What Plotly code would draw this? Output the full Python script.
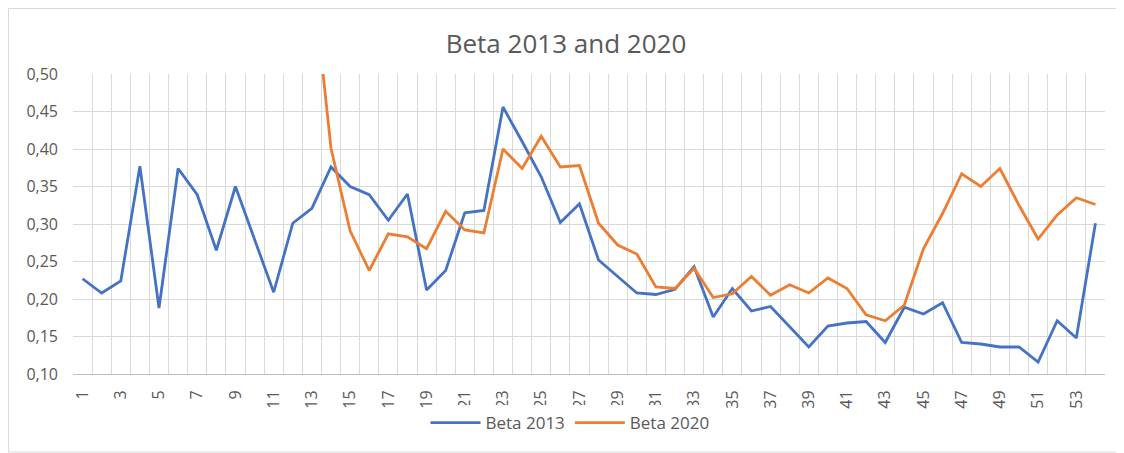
import plotly.graph_objects as go

categories = list(range(1, 55))

beta_2013 = [0.227, 0.208, 0.224, 0.377, 0.188, 0.374, 0.339, 0.265, 0.350, 0.278,
             0.209, 0.301, 0.321, 0.376, 0.350, 0.339, 0.305, 0.340, 0.212, 0.238,
             0.315, 0.318, 0.456, 0.410, 0.363, 0.302, 0.327, 0.252, 0.230, 0.208,
             0.206, 0.213, 0.243, 0.176, 0.214, 0.184, 0.190, 0.163, 0.136, 0.164,
             0.168, 0.170, 0.142, 0.189, 0.180, 0.195, 0.142, 0.140, 0.136, 0.136,
             0.116, 0.171, 0.148, 0.301]

beta_2020 = [None] * 12 + [
             0.640, 0.401, 0.291, 0.238, 0.287, 0.283, 0.267, 0.317,
             0.292, 0.288, 0.400, 0.374, 0.417, 0.376, 0.378, 0.301, 0.272, 0.260,
             0.216, 0.214, 0.241, 0.202, 0.207, 0.230, 0.205, 0.219, 0.208, 0.228,
             0.214, 0.179, 0.171, 0.192, 0.267, 0.314, 0.367, 0.350, 0.374, 0.325,
             0.280, 0.312, 0.335, 0.326]

tick_labels = [str(c) for c in categories[::2]]
y_ticks = [0.10, 0.15, 0.20, 0.25, 0.30, 0.35, 0.40, 0.45, 0.50]

FONT = "Open Sans"
TXT = "#595959"
GRID = "#D9D9D9"

# page has an 8px body margin; figure coordinates are offset accordingly
W, H = 1116, 445
L, R, T, B = 65, 19, 66, 79
PW, PH = W - L - R, H - T - B

fig = go.Figure()
fig.add_trace(go.Scatter(x=categories, y=beta_2013, mode="lines", name="Beta 2013",
                         line=dict(color="#4472C4", width=2.8)))
fig.add_trace(go.Scatter(x=categories, y=beta_2020, mode="lines", name="Beta 2020",
                         line=dict(color="#ED7D31", width=2.8), connectgaps=False))

fig.update_layout(
    width=W, height=H,
    margin=dict(l=L, r=R, t=T, b=B),
    paper_bgcolor="white", plot_bgcolor="white",
    separators=", ",
    font=dict(family=FONT, color=TXT, size=15),
    title=dict(text="Beta 2013 and 2020", x=0.5, xanchor="center",
               y=1 - 36 / H, yanchor="middle", yref="container",
               font=dict(size=26, color=TXT, family=FONT)),
    legend=dict(orientation="h", x=(570 - 73) / PW, xanchor="center", y=-(423 - 374) / PH,
                yanchor="middle", font=dict(size=17, color=TXT), traceorder="normal",
                itemwidth=50),
    xaxis=dict(range=[0.5, 54.5], tickmode="array", tickvals=categories[::2],
               ticktext=tick_labels, tickangle=-90, showgrid=False,
               showline=True, linecolor="#BFBFBF", linewidth=1, zeroline=False,
               ticks="", ticklabelstandoff=9,
               minor=dict(tick0=0.5, dtick=1, showgrid=True, gridcolor=GRID, gridwidth=1, ticks=""),
               tickfont=dict(size=16, color=TXT)),
    yaxis=dict(range=[0.1, 0.5], tickmode="array", tickvals=y_ticks, tickformat=".2f",
               showgrid=True, gridcolor=GRID, gridwidth=1, zeroline=False,
               showline=False, ticks="", ticklabelstandoff=14,
               tickfont=dict(size=16, color=TXT)),
    shapes=[dict(type="rect", xref="paper", yref="paper",
                 x0=(0.5 - L) / PW, x1=(W + 5 - L) / PW,
                 y0=-(444 - (H - B)) / PH, y1=(H - B - 0.5) / PH,
                 line=dict(color="#D9D9D9", width=1), fillcolor="rgba(0,0,0,0)", layer="below")],
)

fig.write_html("out.html")
